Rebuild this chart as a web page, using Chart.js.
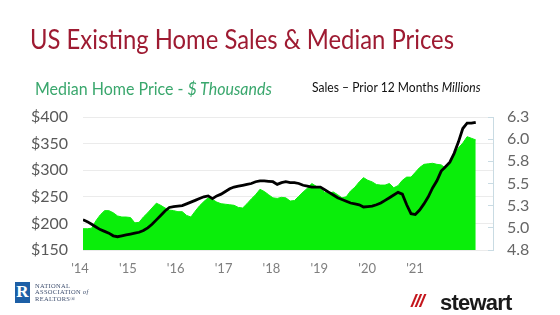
<!DOCTYPE html>
<html>
<head>
<meta charset="utf-8">
<script src="https://cdn.jsdelivr.net/npm/chart.js"></script>
<style>
  html, body { margin: 0; padding: 0; background: #fff; }
  #wrap { position: relative; width: 560px; height: 315px; overflow: hidden; font-family: Lato, "Open Sans", sans-serif; }
  #chart { position: absolute; left: 0; top: 0; }
  .txt { position: absolute; white-space: nowrap; line-height: 1; transform-origin: left top; }
  #title { left: 30px; top: 25px; font-size: 27px; color: #9e1b32; transform: scaleX(0.883); }
  #priceLabel { left: 35px; top: 80px; font-size: 17px; color: #3aa76d; transform: scaleX(0.94); }
  #salesLabel { left: 312px; top: 81px; font-size: 13.5px; color: #111; transform: scaleX(0.895); }
  #narBox { position: absolute; left: 15px; top: 282px; width: 15px; height: 21px; background: #1d5fa6; color: #fff;
            font: bold 17px "Liberation Serif", serif; text-align: center; line-height: 19px; }
  #narText { left: 35px; top: 283px; font: 6.5px/6.3px "Liberation Serif", serif; color: #3f4f6f; letter-spacing: 0.3px; }
  #stewSlash { left: 411px; top: 290px; font: italic 900 19px "Liberation Sans", sans-serif; color: #c4161c; letter-spacing: -1px; }
  #stewText { left: 440px; top: 290px; font: bold 22px "Liberation Sans", sans-serif; color: #1a1a1a; letter-spacing: -0.8px; }
</style>
</head>
<body>
<div id="wrap">
  <canvas id="chart" width="560" height="315"></canvas>
  <div class="txt" id="title">US Existing Home Sales &amp; Median Prices</div>
  <div class="txt" id="priceLabel">Median Home Price - <i>$ Thousands</i></div>
  <div class="txt" id="salesLabel">Sales – Prior 12 Months <i>Millions</i></div>
  <div id="narBox">R</div>
  <div class="txt" id="narText">NATIONAL<br>ASSOCIATION <i>of</i><br>REALTORS®</div>
  <div class="txt" id="stewSlash">///</div>
  <div class="txt" id="stewText">stewart</div>
</div>
<script>
// monthly, Jan 2014 - Aug 2021
const yearLabels = ["'14", "'15", "'16", "'17", "'18", "'19", "'20", "'21"];

// median existing-home price, $ thousands (left axis)
const medianPrice = [
  190, 190, 191, 205, 216, 224, 224, 220, 214, 212, 212, 211,
  201, 202, 212, 220, 229, 238, 234, 229, 225, 224, 222, 222,
  215, 212, 223, 233, 241, 248, 245, 240, 237, 236, 235, 234,
  230, 229, 237, 246, 254, 264, 260, 254, 248, 247, 249, 248,
  242, 243, 251, 259, 266, 275, 270, 265, 258, 257, 259, 254,
  248, 250, 261, 268, 278, 286, 281, 278, 273, 272, 272, 275,
  267, 271, 281, 287, 287, 296, 305, 311, 312, 313, 311, 310,
  304, 313, 329, 342, 351, 363, 360, 357
];

// existing home sales, prior 12 months, millions (right axis)
const salesTrailing = [
  5.09, 5.07, 5.04, 5.01, 4.98, 4.96, 4.94, 4.91, 4.90, 4.91, 4.92, 4.93,
  4.94, 4.95, 4.97, 5.00, 5.04, 5.09, 5.14, 5.19, 5.23, 5.24, 5.245, 5.25,
  5.27, 5.29, 5.31, 5.33, 5.35, 5.36, 5.33, 5.36, 5.38, 5.41, 5.44, 5.46,
  5.47, 5.48, 5.49, 5.50, 5.52, 5.53, 5.53, 5.525, 5.52, 5.49, 5.51, 5.52,
  5.51, 5.51, 5.50, 5.48, 5.47, 5.46, 5.46, 5.46, 5.43, 5.40, 5.37, 5.34,
  5.32, 5.30, 5.28, 5.27, 5.26, 5.235, 5.24, 5.245, 5.26, 5.28, 5.31, 5.34,
  5.37, 5.40, 5.38, 5.26, 5.16, 5.15, 5.20, 5.27, 5.35, 5.45, 5.53, 5.64,
  5.69, 5.74, 5.84, 5.97, 6.12, 6.18, 6.18, 6.19
];

const toPoints = (arr) => arr.map((v, i) => ({ x: i, y: v }));

new Chart(document.getElementById("chart"), {
  type: "line",
  data: {
    datasets: [
      {
        label: "Sales",
        data: toPoints(salesTrailing),
        xAxisID: "x",
        yAxisID: "y2",
        borderColor: "#000",
        borderWidth: 2.8,
        pointRadius: 0,
        tension: 0,
        fill: false,
      },
      {
        label: "Median Price",
        data: toPoints(medianPrice),
        xAxisID: "x",
        yAxisID: "y",
        borderColor: "#0aee0a",
        borderWidth: 1,
        backgroundColor: "#0aee0a",
        pointRadius: 0,
        tension: 0,
        fill: "start",
      },
    ],
  },
  options: {
    responsive: false,
    animation: false,
    devicePixelRatio: 1,
    layout: { padding: { top: 117, left: 0, right: 0, bottom: 0 } },
    plugins: { legend: { display: false }, tooltip: { enabled: false } },
    scales: {
      x: { type: "linear", min: 0, max: 95, display: false },
      xl: {
        type: "linear",
        position: "bottom",
        min: 0,
        max: 8.567,
        grid: { display: false, drawTicks: false },
        border: { display: false },
        ticks: {
          stepSize: 1,
          includeBounds: false,
          autoSkip: false,
          maxRotation: 0,
          labelOffset: -3,
          padding: 11,
          color: "#7f7f7f",
          font: { family: "Lato", size: 13 },
          callback: (v) => (Number.isInteger(v) && yearLabels[v]) || "",
        },
        afterFit: (s) => { s.height = 65; },
      },
      y: {
        position: "left",
        min: 150,
        max: 400,
        grid: { color: "#ebebeb", drawTicks: false },
        border: { display: false },
        ticks: {
          stepSize: 50,
          autoSkip: false,
          padding: 15,
          color: "#595959",
          font: { family: "Lato", size: 16 },
          callback: (v) => "$" + v,
        },
        afterFit: (s) => { s.width = 83; },
      },
      y2: {
        position: "right",
        min: 4.75,
        max: 6.25,
        grid: { drawOnChartArea: false, color: "#c9dbe3", tickLength: -5 },
        border: { display: true, color: "#c9dbe3" },
        ticks: {
          stepSize: 0.25,
          autoSkip: false,
          padding: 19,
          color: "#666",
          font: { family: "Lato", size: 16 },
          callback: (v) => v.toFixed(1),
        },
        afterFit: (s) => { s.width = 67; },
      },
    },
  },
});
</script>
</body>
</html>
